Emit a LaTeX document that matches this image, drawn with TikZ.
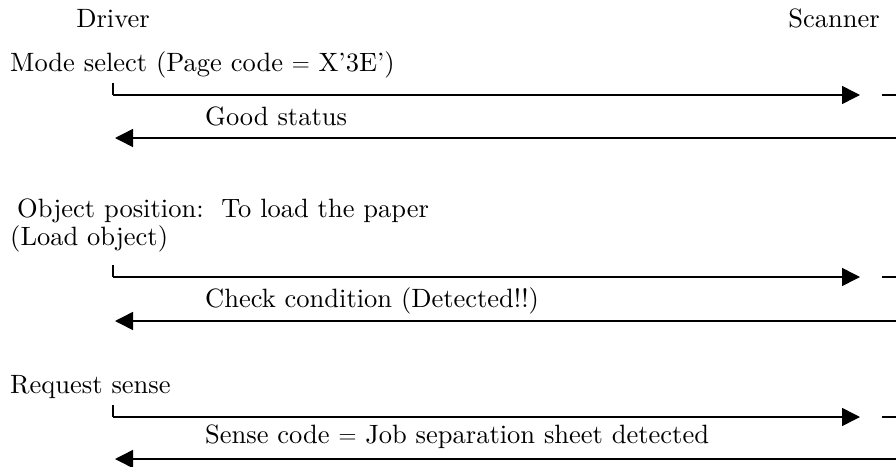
\documentclass[tikz,border=0pt]{standalone}
\usepackage{fontspec}
\setmainfont{lmroman10}[Extension=.otf, UprightFont=*-regular, BoldFont=*-bold]
\usetikzlibrary{arrows.meta}

\begin{document}
\begin{tikzpicture}[x=1pt, y=-1pt,
    every node/.style={font=\fontsize{26.5}{32}\selectfont, inner sep=0pt, anchor=base west},
    msg/.style={line width=1.5pt, -{Triangle[length=18pt, width=18pt]}},
    tick/.style={line width=1.5pt}]
      \useasboundingbox (0, 0) rectangle (896, 466);
      \node[anchor=base] (driver) at (113, 27) {Driver};
      \node[anchor=base] (scanner) at (834, 27) {Scanner};
      % Mode select
      \node (msel) at (10, 71) {Mode select (Page code $=$ X'3E')};
      \coordinate (m1a) at (113, 95);
      \coordinate (m1b) at (860, 95);
      \coordinate (m1c) at (882, 95);
      \coordinate (m1d) at (896, 95);
      \draw[tick] (113, 83) -- (m1a);
      \draw[msg] (m1a) -- (m1b);
      \draw[tick] (m1c) -- (m1d);
      \node (good) at (205, 125) {Good status};
      \coordinate (m2a) at (896, 138);
      \coordinate (m2b) at (115, 138);
      \draw[msg] (m2a) -- (m2b);
      % Object position
      \node (objpos) at (17, 217) {Object position:\ \ To load the paper};
      \node (loadobj) at (10, 245) {(Load object)};
      \coordinate (m3a) at (113, 277);
      \coordinate (m3b) at (860, 277);
      \coordinate (m3c) at (882, 277);
      \coordinate (m3d) at (896, 277);
      \draw[tick] (113, 265) -- (m3a);
      \draw[msg] (m3a) -- (m3b);
      \draw[tick] (m3c) -- (m3d);
      \node (chk) at (205, 307) {Check condition (Detected!!)};
      \coordinate (m4a) at (896, 321);
      \coordinate (m4b) at (115, 321);
      \draw[msg] (m4a) -- (m4b);
      % Request sense
      \node (reqs) at (10, 393) {Request sense};
      \coordinate (m5a) at (113, 417);
      \coordinate (m5b) at (860, 417);
      \coordinate (m5c) at (882, 417);
      \coordinate (m5d) at (896, 417);
      \draw[tick] (113, 405) -- (m5a);
      \draw[msg] (m5a) -- (m5b);
      \draw[tick] (m5c) -- (m5d);
      \node (sense) at (205, 443) {Sense code $=$ Job separation sheet detected};
      \coordinate (m6a) at (896, 459);
      \coordinate (m6b) at (115, 459);
      \draw[msg] (m6a) -- (m6b);
\end{tikzpicture}
\end{document}
